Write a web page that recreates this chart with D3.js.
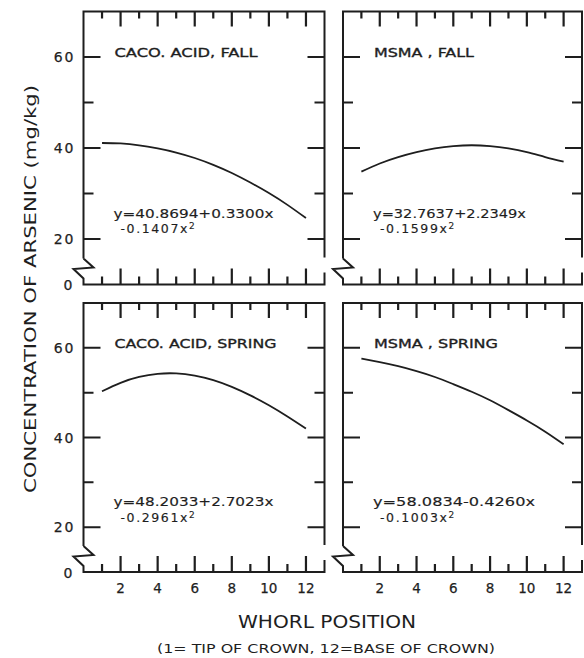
<!DOCTYPE html>
<html>
<head>
<meta charset="utf-8">
<script src="https://cdn.jsdelivr.net/npm/d3@7"></script>
<style>
  body { margin: 0; background: #fff; }
  svg text { font-family: "DejaVu Sans", "Liberation Sans", sans-serif; fill: #1e1e1e; }
</style>
</head>
<body>
<div id="chart"></div>
<script>
// whorl positions (1 = tip of crown, 12 = base of crown)
const whorl = [1, 2, 3, 4, 5, 6, 7, 8, 9, 10, 11, 12];

// arsenic concentration (mg/kg)
const cacoFall   = [41.1, 41.0, 40.6, 39.9, 39.0, 37.8, 36.3, 34.5, 32.4, 30.1, 27.5, 24.6];
const msmaFall   = [34.8, 36.6, 38.0, 39.1, 39.9, 40.4, 40.6, 40.4, 39.9, 39.1, 38.0, 37.0];
const cacoSpring = [50.3, 52.2, 53.5, 54.2, 54.3, 53.8, 52.8, 51.3, 49.4, 47.2, 44.7, 42.0];
const msmaSpring = [57.6, 56.8, 55.9, 54.8, 53.5, 51.9, 50.2, 48.3, 46.1, 43.8, 41.3, 38.5];

const panelTitles = ["CACO. ACID, FALL", "MSMA , FALL", "CACO. ACID, SPRING", "MSMA , SPRING"];
const eqLine1 = ["y=40.8694+0.3300x", "y=32.7637+2.2349x", "y=48.2033+2.7023x", "y=58.0834-0.4260x"];
const eqLine2 = ["-0.1407x", "-0.1599x", "-0.2961x", "-0.1003x"];

const yTicks = [20, 30, 40, 50, 60];
const yLabels = [20, 40, 60];
const xLabels = [2, 4, 6, 8, 10, 12];

const width = 584, height = 658;
const ink = "#1e1e1e";

const svg = d3.select("#chart").append("svg")
    .attr("width", width)
    .attr("height", height);

// panel frames: columns and rows in pixels
const cols = [[83.5, 324.5], [343, 582]];
const rows = [[284.5, 11.5], [572, 303]];
const series = [cacoFall, msmaFall, cacoSpring, msmaSpring];
const titleWidths = [143, 100, 162, 124];
const eqWidths = [160, 153, 160, 162];

const line = d3.line().curve(d3.curveNatural);
const xTickPath = d3.path();   // x ticks of all panels, drawn last

series.forEach((vals, i) => {
    const r = Math.floor(i / 2), c = i % 2;
    const x = d3.scaleLinear().domain([0, 13]).range(cols[c]);
    const y = d3.scaleLinear().domain([10, 70]).range(rows[r]);
    const g = svg.append("g");
    const x0 = x(0), x1 = x(13), yT = y(70), yB = y(10);

    // frame with axis break at the lower left and a gap on the right
    const p = d3.path();
    p.moveTo(x0, yB - 26); p.lineTo(x0, yT); p.lineTo(x1, yT); p.lineTo(x1, yB - 27);
    p.moveTo(x1, yB - 12); p.lineTo(x1, yB); p.lineTo(x0, yB); p.lineTo(x0, yB - 6);
    p.lineTo(x0 - 10, yB - 15.5); p.lineTo(x0 + 10, yB - 17); p.lineTo(x0, yB - 26);

    // y ticks on left and right, pointing inward (long on 20, 40, 60)
    yTicks.forEach(d => {
        const len = d % 20 === 0 ? 17 : 10;
        p.moveTo(x0, y(d)); p.lineTo(x0 + len, y(d));
        p.moveTo(x1, y(d)); p.lineTo(x1 - len, y(d));
    });
    g.append("path").attr("d", p.toString())
        .attr("fill", "none").attr("stroke", ink).attr("stroke-width", 2);

    // x ticks on bottom and top, pointing inward (long on even whorls)
    whorl.forEach(d => {
        const len = d % 2 === 0 ? 16 : 8;
        xTickPath.moveTo(x(d), yB); xTickPath.lineTo(x(d), yB - len);
        xTickPath.moveTo(x(d), yT); xTickPath.lineTo(x(d), yT + len - 1);
    });

    // tick labels
    if (c === 0) {
        g.selectAll(".ylab").data(yLabels).join("text").attr("class", "ylab")
            .attr("x", x0 - 8).attr("y", d => y(d)).attr("dy", "0.36em")
            .attr("text-anchor", "end")
            .style("font-size", "14px").style("letter-spacing", "2px")
            .attr("stroke", ink).attr("stroke-width", 0.25)
            .text(d => d);
        g.append("text")
            .attr("x", x0 - 11).attr("y", yB).attr("dy", "0.4em")
            .attr("text-anchor", "end")
            .style("font-size", "14px")
            .attr("stroke", ink).attr("stroke-width", 0.25)
            .text("0");
    }
    if (r === 1) {
        g.selectAll(".xlab").data(xLabels).join("text").attr("class", "xlab")
            .attr("x", d => x(d)).attr("y", yB + 21)
            .attr("text-anchor", "middle")
            .style("font-size", "13.5px")
            .attr("stroke", ink).attr("stroke-width", 0.25)
            .text(d => d);
    }

    // fitted curve
    g.append("path")
        .attr("d", line(whorl.map((w, k) => [x(w), y(vals[k])])))
        .attr("fill", "none")
        .attr("stroke", ink)
        .attr("stroke-width", 1.8);

    // panel title
    g.append("text")
        .attr("x", x0 + 31)
        .attr("y", y(60))
        .attr("textLength", titleWidths[i])
        .attr("lengthAdjust", "spacingAndGlyphs")
        .style("font-size", "13px")
        .attr("stroke", ink).attr("stroke-width", 0.35)
        .text(panelTitles[i]);

    // regression equation
    g.append("text")
        .attr("x", x0 + 30)
        .attr("y", y(24.4) - 1)
        .attr("textLength", eqWidths[i])
        .attr("lengthAdjust", "spacingAndGlyphs")
        .style("font-size", "12.5px")
        .attr("stroke", ink).attr("stroke-width", 0.15)
        .text(eqLine1[i]);
    const t2 = g.append("text")
        .attr("x", x0 + 37)
        .attr("y", y(24.4) + 14.5)
        .style("font-size", "12.5px")
        .style("letter-spacing", "1.6px")
        .attr("stroke", ink).attr("stroke-width", 0.15);
    t2.append("tspan").text(eqLine2[i]);
    t2.append("tspan").attr("dy", -4).style("font-size", "9px").text("2");
});

svg.append("path")
    .attr("d", xTickPath.toString())
    .attr("fill", "none")
    .attr("stroke", ink)
    .attr("stroke-width", 2.2);

// axis titles
svg.append("text")
    .attr("transform", "translate(30,289) rotate(-90)")
    .attr("text-anchor", "middle")
    .attr("dy", "0.35em")
    .attr("textLength", 408)
    .attr("lengthAdjust", "spacingAndGlyphs")
    .style("font-size", "16px")
    .text("CONCENTRATION OF ARSENIC (mg/kg)");

svg.append("text")
    .attr("x", 327)
    .attr("y", 628)
    .attr("text-anchor", "middle")
    .attr("textLength", 178)
    .attr("lengthAdjust", "spacingAndGlyphs")
    .style("font-size", "17px")
    .text("WHORL POSITION");

svg.append("text")
    .attr("x", 326)
    .attr("y", 653)
    .attr("text-anchor", "middle")
    .attr("textLength", 338)
    .attr("lengthAdjust", "spacingAndGlyphs")
    .style("font-size", "13px")
    .text("(1= TIP OF CROWN, 12=BASE OF CROWN)");
</script>
</body>
</html>
